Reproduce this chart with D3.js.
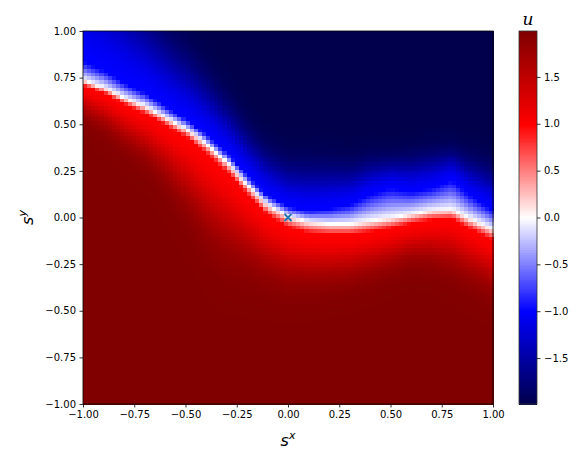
<!DOCTYPE html>
<html>
<head>
<meta charset="utf-8">
<script src="https://cdn.jsdelivr.net/npm/d3@7"></script>
<style>
  body { margin: 0; background: #fff; }
  text { font-family: "DejaVu Sans", sans-serif; }
</style>
</head>
<body>
<div id="chart"></div>
<script>
const knotsX = [-1, -0.9, -0.8, -0.7, -0.6, -0.5, -0.4, -0.3, -0.2, -0.1, 0,
                0.1, 0.2, 0.3, 0.4, 0.5, 0.6, 0.7, 0.8, 0.9, 1];
// s^y of the white u = 0 line at each knot
const zeroLine = [0.74, 0.70, 0.645, 0.60, 0.54, 0.48, 0.40, 0.30, 0.18, 0.07, 0.01,
                  -0.02, -0.03, -0.03, -0.015, 0.0, 0.02, 0.04, 0.045, -0.01, -0.06];
// above the line: distance to reach u = -1, then spread towards the darkest blue
const blueRise = [0.10, 0.09, 0.08, 0.07, 0.06, 0.05, 0.05, 0.05, 0.05, 0.05, 0.05,
                  0.06, 0.08, 0.10, 0.14, 0.16, 0.12, 0.12, 0.16, 0.12, 0.10];
const blueSpread = [0.48, 0.44, 0.40, 0.35, 0.31, 0.28, 0.25, 0.22, 0.20, 0.19, 0.19,
                    0.20, 0.19, 0.17, 0.15, 0.13, 0.15, 0.15, 0.13, 0.16, 0.18];
// below the line: distance to reach u = +1, then spread towards the darkest red
const redRise = [0.03, 0.03, 0.035, 0.04, 0.04, 0.045, 0.05, 0.05, 0.05, 0.055, 0.06,
                 0.06, 0.06, 0.06, 0.06, 0.055, 0.05, 0.05, 0.05, 0.055, 0.06];
const redSpread = [0.12, 0.14, 0.16, 0.18, 0.22, 0.28, 0.33, 0.33, 0.28, 0.24, 0.22,
                   0.20, 0.19, 0.18, 0.17, 0.16, 0.15, 0.17, 0.20, 0.20, 0.20];

const axisTicks = [-1, -0.75, -0.5, -0.25, 0, 0.25, 0.5, 0.75, 1];
const barTicks = [-1.5, -1, -0.5, 0, 0.5, 1, 1.5];
const markers = [{ sx: 0, sy: 0 }];
const vmax = 1.99;
const gridN = 100;

const W = 587, H = 458;
const margin = { top: 31, right: 94, bottom: 54, left: 83 },
  width = W - margin.left - margin.right,
  height = H - margin.top - margin.bottom;

const svg = d3.select("#chart")
  .append("svg")
  .attr("width", W)
  .attr("height", H);

const g = svg.append("g")
  .attr("transform", `translate(${margin.left}, ${margin.top})`);

const x = d3.scaleLinear().domain([-1, 1]).range([0, width]);
const y = d3.scaleLinear().domain([-1, 1]).range([height, 0]);

// seismic colour map
const color = d3.scaleLinear()
  .domain([-vmax, -vmax / 2, 0, vmax / 2, vmax])
  .range(["#00004c", "#0000ff", "#ffffff", "#ff0000", "#800000"])
  .clamp(true);

// read profiles, joined linearly along s^x
const zeroAt = d3.scaleLinear().domain(knotsX).range(zeroLine);
const blueRiseAt = d3.scaleLinear().domain(knotsX).range(blueRise);
const blueSpreadAt = d3.scaleLinear().domain(knotsX).range(blueSpread);
const redRiseAt = d3.scaleLinear().domain(knotsX).range(redRise);
const redSpreadAt = d3.scaleLinear().domain(knotsX).range(redSpread);

function fieldValue(sx, sy) {
  const d = sy - zeroAt(sx);
  const above = d > 0;
  const dist = Math.abs(d);
  const rise = above ? blueRiseAt(sx) : redRiseAt(sx);
  const spread = above ? blueSpreadAt(sx) : redSpreadAt(sx);
  let u;
  if (dist < rise) u = dist / rise;
  else {
    const t = (dist - rise) / spread;
    u = 1 + (vmax - 1) * (1 - Math.exp(-t * t));
  }
  return above ? -u : u;
}

// grid cells
const step = 2 / gridN;
const cells = [];
for (let j = 0; j < gridN; j++) {
  for (let i = 0; i < gridN; i++) {
    const x0 = -1 + i * step, y0 = -1 + j * step;
    cells.push({ x0, y0, u: fieldValue(x0 + step / 2, y0 + step / 2) });
  }
}

g.append("g")
  .attr("shape-rendering", "crispEdges")
  .selectAll("rect")
  .data(cells)
  .join("rect")
  .attr("x", d => x(d.x0))
  .attr("y", d => y(d.y0 + step))
  .attr("width", x(step) - x(0) + 0.6)
  .attr("height", y(0) - y(step) + 0.6)
  .attr("fill", d => color(d.u));

// marker
g.selectAll(".marker")
  .data(markers)
  .join("path")
  .attr("class", "marker")
  .attr("d", d => {
    const cx = x(d.sx), cy = y(d.sy), r = 3.5;
    return `M${cx - r},${cy - r}L${cx + r},${cy + r}M${cx - r},${cy + r}L${cx + r},${cy - r}`;
  })
  .attr("stroke", "#1f77b4")
  .attr("stroke-width", 1.8)
  .attr("fill", "none");

// frame
g.append("rect")
  .attr("width", width)
  .attr("height", height)
  .attr("fill", "none")
  .attr("stroke", "#000")
  .attr("stroke-width", 0.8);

// axes
const fmt2 = d3.format(".2f");
const xAxis = g.append("g")
  .attr("transform", `translate(0, ${height})`)
  .call(d3.axisBottom(x).tickValues(axisTicks).tickFormat(fmt2).tickSize(3.5).tickPadding(3.5));
const yAxis = g.append("g")
  .call(d3.axisLeft(y).tickValues(axisTicks).tickFormat(fmt2).tickSize(3.5).tickPadding(3.5));
[xAxis, yAxis].forEach(a => {
  a.select(".domain").remove();
  a.selectAll("line").attr("stroke", "#000").attr("stroke-width", 0.8);
  a.selectAll("text").attr("fill", "#000").style("font-size", "10px");
});

// axis labels
const xl = svg.append("text")
  .attr("x", margin.left + width / 2)
  .attr("y", 446)
  .attr("text-anchor", "middle")
  .style("font-size", "16px")
  .style("font-style", "italic");
xl.append("tspan").text("s");
xl.append("tspan").attr("dy", -7).style("font-size", "11px").text("x");

const yl = svg.append("text")
  .attr("transform", `translate(33, ${margin.top + height / 2}) rotate(-90)`)
  .attr("text-anchor", "middle")
  .style("font-size", "16px")
  .style("font-style", "italic");
yl.append("tspan").text("s");
yl.append("tspan").attr("dy", -7).style("font-size", "11px").text("y");

// colour bar
const cb = svg.append("g").attr("transform", `translate(519, ${margin.top})`);
const cbW = 18;
const cy = d3.scaleLinear().domain([-vmax, vmax]).range([height, 0]);
const slices = d3.range(0, 200).map(k => -vmax + (k + 0.5) * (2 * vmax / 200));
cb.append("g")
  .attr("shape-rendering", "crispEdges")
  .selectAll("rect")
  .data(slices)
  .join("rect")
  .attr("x", 0)
  .attr("width", cbW)
  .attr("y", d => cy(d + vmax / 200))
  .attr("height", cy(0) - cy(2 * vmax / 200) + 0.5)
  .attr("fill", d => color(d));
cb.append("rect")
  .attr("width", cbW)
  .attr("height", height)
  .attr("fill", "none")
  .attr("stroke", "#333")
  .attr("stroke-width", 0.8);
const cbAxis = cb.append("g")
  .attr("transform", `translate(${cbW}, 0)`)
  .call(d3.axisRight(cy).tickValues(barTicks).tickFormat(d3.format(".1f")).tickSize(3.5).tickPadding(3.5));
cbAxis.select(".domain").remove();
cbAxis.selectAll("line").attr("stroke", "#000").attr("stroke-width", 0.8);
cbAxis.selectAll("text").attr("fill", "#000").style("font-size", "10px");

svg.append("text")
  .attr("x", 519 + cbW / 2)
  .attr("y", 25)
  .attr("text-anchor", "middle")
  .style("font-family", "'DejaVu Serif', serif")
  .style("font-style", "italic")
  .style("font-size", "17px")
  .text("u");
</script>
</body>
</html>
